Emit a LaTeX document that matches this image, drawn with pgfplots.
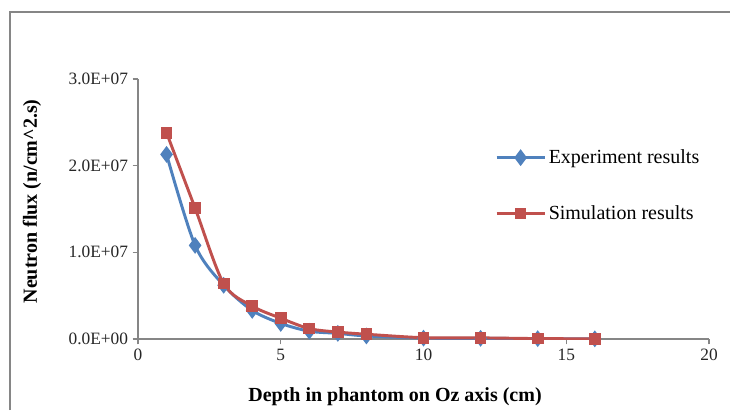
\documentclass[border=0pt]{standalone}
\usepackage{fontspec}
\setmainfont{Liberation Serif}
\usepackage{pgfplots}
\pgfplotsset{compat=1.18}
\definecolor{xlblue}{HTML}{4F81BD}
\definecolor{xlred}{HTML}{C0504D}
\definecolor{axgray}{HTML}{868686}
\begin{document}
\begin{tikzpicture}
% 1 px of the reference = 0.75pt; y measured downward from the top
\useasboundingbox[fill=white] (0,0) rectangle (547.5pt,-307.5pt);
\draw[axgray,line width=0.8pt] (7.5pt,-307.5pt) -- (7.5pt,-9pt) -- (547.5pt,-9pt);
\begin{axis}[
  at={(103.5pt,-254.25pt)}, anchor=origin,
  scale only axis,
  width=428.25pt, height=195pt,
  xmin=0, xmax=20, ymin=0, ymax=3e7,
  xtick={0,5,10,15,20},
  ytick={0,1e7,2e7,3e7},
  yticklabels={0.0E+00,1.0E+07,2.0E+07,3.0E+07},
  scaled y ticks=false,
  axis x line*=bottom, axis y line*=left,
  axis line style={axgray,line width=1pt,-},
  tick style={axgray,line width=0.8pt},
  tick align=outside, major tick length=4pt,
  xticklabel style={font=\fontsize{13}{15}\selectfont, text=black!85},
  yticklabel style={font=\fontsize{13}{15}\selectfont, text=black!85},
  xticklabel={\pgfmathprintnumber[assume math mode=true]{\tick}},
  legend style={at={(0.618,0.59)}, anchor=west, draw=none, fill=none,
    font=\fontsize{15}{18}\selectfont, row sep=26pt},
  legend cell align=left,
  legend image code/.code={\draw[#1] (0,0) -- (36pt,0) plot coordinates {(18pt,0)};},
]
\addplot[xlblue, line width=2.2pt, smooth, tension=0.5, mark=diamond*, mark size=4.5pt, mark options={solid}] coordinates {
  (1,21.3e6) (2,10.8e6) (3,6.2e6) (4,3.3e6) (5,1.8e6) (6,0.9e6) (7,0.65e6) (8,0.35e6)
  (10,0.1e6) (12,0.08e6) (14,0.04e6) (16,0.02e6)
};
\addplot[xlred, line width=2.2pt, smooth, tension=0.5, mark=square*, mark size=3.3pt, mark options={solid}] coordinates {
  (1,23.8e6) (2,15.1e6) (3,6.4e6) (4,3.8e6) (5,2.4e6) (6,1.2e6) (7,0.8e6) (8,0.55e6)
  (10,0.15e6) (12,0.13e6) (14,0.05e6) (16,0.02e6)
};
\legend{Experiment results,Simulation results}
\end{axis}
\node[font=\bfseries\fontsize{15}{18}\selectfont] at (296.25pt,-297.75pt) {Depth in phantom on Oz axis (cm)};
\node[font=\bfseries\fontsize{15}{18}\selectfont, rotate=90] at (24pt,-151pt) {Neutron flux (n/cm\textasciicircum 2.s)};
\end{tikzpicture}
\end{document}
